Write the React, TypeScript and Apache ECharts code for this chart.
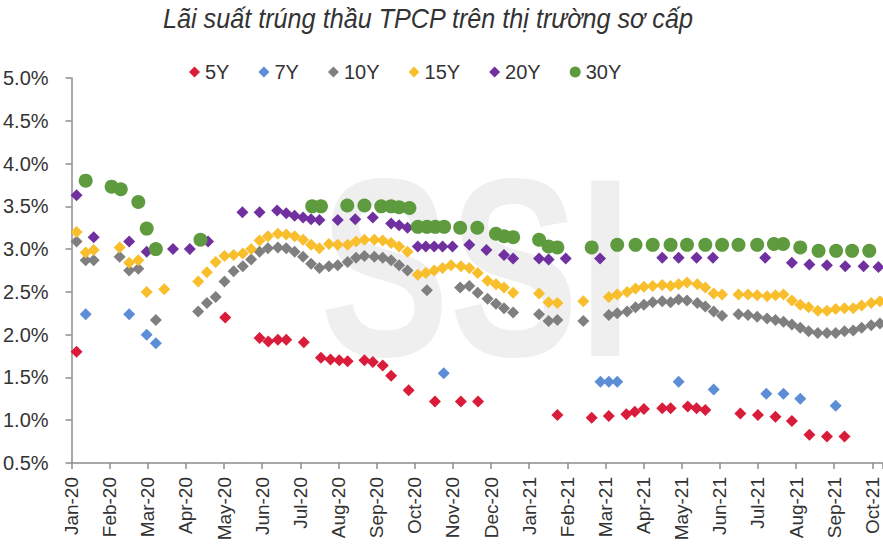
import React, { useEffect, useRef } from "react";
import * as echarts from "echarts";

// x position = months since Jan-20 (fractional), y = yield in %
const monthLabels = [
  "Jan-20", "Feb-20", "Mar-20", "Apr-20", "May-20", "Jun-20", "Jul-20", "Aug-20",
  "Sep-20", "Oct-20", "Nov-20", "Dec-20", "Jan-21", "Feb-21", "Mar-21", "Apr-21",
  "May-21", "Jun-21", "Jul-21", "Aug-21", "Sep-21", "Oct-21",
];

const yieldTicks = [0.5, 1.0, 1.5, 2.0, 2.5, 3.0, 3.5, 4.0, 4.5, 5.0];

const y5: [number, number][] = [
  [0.13, 1.80], [4.03, 2.20], [4.93, 1.96], [5.16, 1.92], [5.41, 1.94], [5.63, 1.94],
  [6.09, 1.91], [6.54, 1.73], [6.79, 1.71], [7.02, 1.70], [7.24, 1.69], [7.68, 1.70],
  [7.90, 1.68], [8.16, 1.64], [8.38, 1.52], [8.84, 1.35], [9.53, 1.22], [10.21, 1.22],
  [10.66, 1.22], [12.74, 1.06], [13.64, 1.03], [14.09, 1.05], [14.55, 1.07], [14.77, 1.10],
  [15.01, 1.13], [15.49, 1.14], [15.71, 1.14], [16.16, 1.16], [16.39, 1.14], [16.62, 1.12],
  [17.54, 1.08], [18.00, 1.06], [18.46, 1.04], [18.89, 0.99], [19.35, 0.83], [19.81, 0.81],
  [20.27, 0.81],
];

const y7: [number, number][] = [
  [0.37, 2.24], [1.51, 2.24], [1.97, 2.00], [2.21, 1.90], [9.76, 1.55], [13.87, 1.45],
  [14.09, 1.45], [14.31, 1.45], [15.92, 1.45], [16.84, 1.36], [18.22, 1.31], [18.67, 1.31],
  [19.11, 1.25], [20.04, 1.17],
];

const y10: [number, number][] = [
  [0.13, 3.09], [0.37, 2.87], [0.58, 2.87], [1.26, 2.91], [1.51, 2.75], [1.75, 2.77],
  [2.21, 2.17], [3.32, 2.27], [3.55, 2.37], [3.78, 2.44], [4.01, 2.62], [4.25, 2.74],
  [4.49, 2.80], [4.71, 2.88], [4.93, 2.97], [5.15, 3.01], [5.41, 3.02], [5.63, 3.01],
  [5.85, 2.97], [6.07, 2.91], [6.28, 2.83], [6.50, 2.78], [6.75, 2.80], [6.98, 2.81],
  [7.24, 2.85], [7.46, 2.90], [7.68, 2.92], [7.94, 2.91], [8.16, 2.90], [8.38, 2.87],
  [8.59, 2.81], [8.81, 2.75], [9.32, 2.52], [10.19, 2.55], [10.43, 2.57], [10.65, 2.49],
  [10.91, 2.42], [11.13, 2.36], [11.34, 2.31], [11.58, 2.26], [12.26, 2.24], [12.51, 2.16],
  [12.74, 2.17], [13.42, 2.16], [14.09, 2.23], [14.31, 2.25], [14.57, 2.27], [14.79, 2.32],
  [15.01, 2.35], [15.24, 2.38], [15.49, 2.39], [15.71, 2.38], [15.92, 2.41], [16.14, 2.40],
  [16.41, 2.37], [16.62, 2.33], [16.84, 2.27], [17.06, 2.22], [17.49, 2.24], [17.74, 2.23],
  [17.98, 2.21], [18.24, 2.19], [18.46, 2.17], [18.67, 2.15], [18.89, 2.12], [19.11, 2.08],
  [19.33, 2.04], [19.57, 2.02], [19.81, 2.02], [20.04, 2.02], [20.27, 2.04], [20.50, 2.05],
  [20.72, 2.08], [20.97, 2.11], [21.20, 2.13],
];

const y15: [number, number][] = [
  [0.13, 3.20], [0.37, 2.96], [0.58, 2.99], [1.26, 3.02], [1.51, 2.84], [1.75, 2.87],
  [1.97, 2.50], [2.43, 2.53], [3.32, 2.62], [3.55, 2.73], [3.78, 2.85], [4.01, 2.92],
  [4.25, 2.93], [4.49, 2.95], [4.71, 3.00], [4.93, 3.10], [5.15, 3.15], [5.41, 3.18],
  [5.63, 3.17], [5.85, 3.15], [6.07, 3.11], [6.28, 3.05], [6.50, 3.01], [6.75, 3.06],
  [6.98, 3.05], [7.24, 3.05], [7.46, 3.09], [7.68, 3.11], [7.94, 3.11], [8.16, 3.10],
  [8.38, 3.07], [8.59, 3.03], [8.81, 2.97], [9.08, 2.70], [9.29, 2.72], [9.51, 2.75],
  [9.73, 2.78], [9.95, 2.81], [10.21, 2.80], [10.43, 2.78], [10.65, 2.72], [10.91, 2.63],
  [11.13, 2.59], [11.34, 2.55], [11.58, 2.49], [12.26, 2.48], [12.51, 2.38], [12.74, 2.37],
  [13.42, 2.39], [14.09, 2.44], [14.31, 2.47], [14.57, 2.50], [14.79, 2.54], [15.01, 2.56],
  [15.24, 2.57], [15.49, 2.58], [15.71, 2.57], [15.92, 2.59], [16.14, 2.61], [16.41, 2.59],
  [16.62, 2.55], [16.84, 2.48], [17.06, 2.47], [17.49, 2.47], [17.74, 2.47], [17.98, 2.46],
  [18.24, 2.45], [18.46, 2.46], [18.67, 2.47], [18.89, 2.40], [19.11, 2.35], [19.33, 2.32],
  [19.57, 2.28], [19.81, 2.28], [20.04, 2.30], [20.27, 2.31], [20.50, 2.31], [20.72, 2.34],
  [20.97, 2.37], [21.20, 2.39],
];

const y20: [number, number][] = [
  [0.13, 3.63], [0.58, 3.14], [1.51, 3.09], [1.97, 2.97], [2.66, 3.00], [3.10, 3.00],
  [3.58, 3.09], [4.48, 3.43], [4.93, 3.43], [5.39, 3.45], [5.63, 3.42], [5.85, 3.39],
  [6.07, 3.37], [6.28, 3.35], [6.50, 3.34], [6.98, 3.34], [7.44, 3.35], [7.90, 3.37],
  [8.38, 3.30], [8.59, 3.28], [8.81, 3.25], [9.08, 3.03], [9.29, 3.03], [9.51, 3.03],
  [9.73, 3.03], [9.99, 3.03], [10.43, 3.05], [10.88, 2.99], [11.34, 2.93], [11.58, 2.89],
  [12.26, 2.89], [12.51, 2.88], [12.96, 2.89], [13.86, 2.89], [15.49, 2.90], [15.92, 2.90],
  [16.39, 2.90], [16.82, 2.90], [18.19, 2.90], [18.89, 2.84], [19.35, 2.82], [19.81, 2.81],
  [20.29, 2.80], [20.77, 2.80], [21.16, 2.79],
];

const y30: [number, number][] = [
  [0.37, 3.80], [1.05, 3.73], [1.29, 3.70], [1.75, 3.55], [1.97, 3.24], [2.21, 3.00],
  [3.38, 3.11], [6.31, 3.50], [6.54, 3.50], [7.23, 3.51], [7.68, 3.51], [8.12, 3.50],
  [8.38, 3.50], [8.59, 3.49], [8.86, 3.48], [9.08, 3.26], [9.32, 3.26], [9.54, 3.26],
  [9.77, 3.26], [10.19, 3.25], [10.64, 3.25], [11.13, 3.18], [11.34, 3.15], [11.58, 3.14],
  [12.26, 3.11], [12.51, 3.03], [12.74, 3.02], [13.64, 3.02], [14.31, 3.05], [14.79, 3.05],
  [15.24, 3.05], [15.71, 3.05], [16.14, 3.05], [16.62, 3.05], [17.06, 3.05], [17.49, 3.05],
  [17.98, 3.05], [18.42, 3.06], [18.66, 3.06], [19.11, 3.02], [19.59, 2.98], [20.05, 2.98],
  [20.47, 2.98], [20.92, 2.98],
];

const seriesNames = ["5Y", "7Y", "10Y", "15Y", "20Y", "30Y"];
const seriesColors = ["#D91C3A", "#5B8ED6", "#7F7F7F", "#F8BE2C", "#7030A0", "#5E9A3E"];
const seriesData = [y5, y7, y10, y15, y20, y30];

const FONT = '"Liberation Sans", Arial, sans-serif';

export default function App() {
  const ref = useRef<HTMLDivElement>(null);
  useEffect(() => {
    if (!ref.current) return;
    const chart = echarts.init(ref.current, undefined, { renderer: "svg" });
    const option: any = {
      animation: false,
      backgroundColor: "#ffffff",
      textStyle: { fontFamily: FONT },
      legend: {
        left: 184,
        top: 57,
        itemWidth: 11,
        itemHeight: 11,
        itemGap: 29,
        textStyle: { fontFamily: FONT, fontSize: 20, color: "#333333" },
        data: seriesNames.map((n, i) => ({ name: n, icon: i === 5 ? "circle" : "diamond" })),
      },
      graphic: [
        {
          type: "text",
          x: 320,
          y: 140,
          scaleX: 0.76,
          z: -10,
          silent: true,
          style: {
            text: "SSI",
            fill: "#efefef",
            font: 'bold 255px "Liberation Sans", sans-serif',
          },
        },
        {
          type: "text",
          x: 163,
          y: 5,
          scaleX: 0.9,
          silent: true,
          style: {
            text: "Lãi suất trúng thầu TPCP trên thị trường sơ cấp",
            fill: "#333333",
            font: 'italic 28px "Liberation Sans", sans-serif',
          },
        },
      ],
      grid: { left: 70, right: 0, top: 78, bottom: 89, containLabel: false },
      xAxis: {
        type: "value",
        min: 0,
        max: 21.28,
        interval: 1,
        splitLine: { show: false },
        axisLine: { lineStyle: { color: "#8c8c8c", width: 1.5 } },
        axisTick: { show: true, length: 6, lineStyle: { color: "#8c8c8c", width: 1.5 } },
        axisLabel: {
          rotate: 90,
          margin: 14,
          fontFamily: FONT,
          fontSize: 19,
          color: "#333333",
          formatter: (v: number) =>
            Math.abs(v - Math.round(v)) < 1e-6 ? monthLabels[Math.round(v)] ?? "" : "",
        },
      },
      yAxis: {
        type: "value",
        min: yieldTicks[0],
        max: yieldTicks[yieldTicks.length - 1],
        interval: 0.5,
        splitLine: { show: false },
        axisLine: { show: true, lineStyle: { color: "#8c8c8c", width: 1.5 } },
        axisTick: { show: true, length: 6, lineStyle: { color: "#8c8c8c", width: 1.5 } },
        axisLabel: {
          margin: 23,
          fontFamily: FONT,
          fontSize: 20,
          color: "#333333",
          formatter: (v: number) => v.toFixed(1) + "%",
        },
      },
      series: seriesNames.map((n, i) => ({
        name: n,
        type: "scatter",
        symbol: i === 5 ? "circle" : "diamond",
        symbolSize: i === 5 ? 14 : 12,
        itemStyle: { color: seriesColors[i], opacity: 1 },
        data: seriesData[i],
        z: 2 + i,
      })),
    };
    chart.setOption(option);
    return () => chart.dispose();
  }, []);
  return (
    <div
      ref={ref}
      style={{ position: "absolute", left: 0, top: 0, width: 883, height: 552 }}
    />
  );
}
